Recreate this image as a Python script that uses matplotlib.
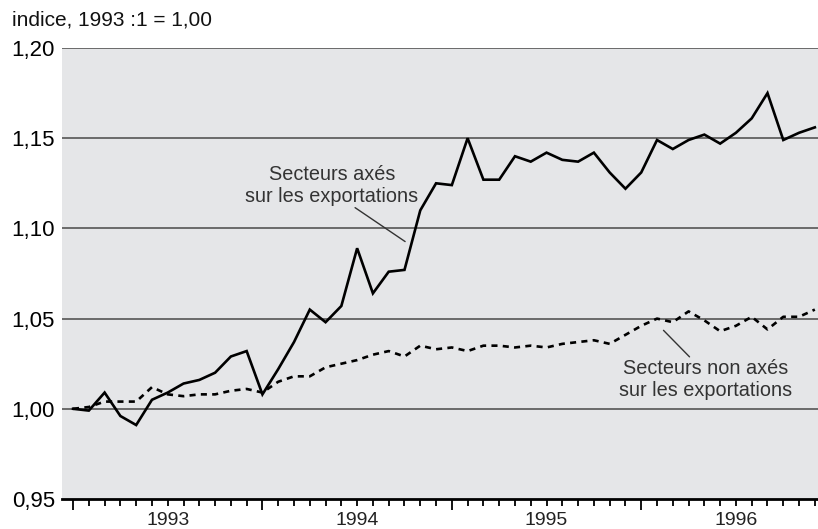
import matplotlib
matplotlib.use("Agg")
import matplotlib.pyplot as plt
import matplotlib.transforms as mtransforms

plt.rcParams["font.family"] = ["Liberation Sans", "DejaVu Sans"]

# monthly index, 1993:1 .. 1996:12
years = ["1993", "1994", "1995", "1996"]
export_sectors = [
    1.000, 0.999, 1.009, 0.996, 0.991, 1.005, 1.009, 1.014, 1.016, 1.020, 1.029, 1.032,
    1.008, 1.022, 1.037, 1.055, 1.048, 1.057, 1.089, 1.064, 1.076, 1.077, 1.110, 1.125,
    1.124, 1.150, 1.127, 1.127, 1.140, 1.137, 1.142, 1.138, 1.137, 1.142, 1.131, 1.122,
    1.131, 1.149, 1.144, 1.149, 1.152, 1.147, 1.153, 1.161, 1.175, 1.149, 1.153, 1.156,
]
other_sectors = [
    1.000, 1.001, 1.004, 1.004, 1.004, 1.012, 1.008, 1.007, 1.008, 1.008, 1.010, 1.011,
    1.009, 1.015, 1.018, 1.018, 1.023, 1.025, 1.027, 1.030, 1.032, 1.029, 1.035, 1.033,
    1.034, 1.032, 1.035, 1.035, 1.034, 1.035, 1.034, 1.036, 1.037, 1.038, 1.036, 1.041,
    1.046, 1.050, 1.048, 1.054, 1.049, 1.043, 1.046, 1.051, 1.044, 1.051, 1.051, 1.055,
]
months = list(range(len(export_sectors)))

fig = plt.figure(figsize=(8.18, 5.29), dpi=100)
ax = fig.add_axes([62 / 818, 30 / 529, 1 - 62 / 818, 451 / 529])
ax.set_facecolor("#e5e6e8")

for y in [1.00, 1.05, 1.10, 1.15, 1.20]:
    ax.axhline(y, color="#555555", lw=1.2, zorder=1)

ax.plot(months, export_sectors, color="black", lw=1.9, solid_joinstyle="miter", zorder=3)
ax.plot(months, other_sectors, color="black", lw=1.9, dashes=(2.3, 2.0), zorder=3)

ax.set_xlim(-0.7, 47.2)
ax.set_ylim(0.95, 1.20)

for side in ["left", "right", "top"]:
    ax.spines[side].set_visible(False)
ax.spines["bottom"].set_linewidth(2)
ax.spines["bottom"].set_color("black")

ax.set_yticks([0.95, 1.00, 1.05, 1.10, 1.15, 1.20])
ax.set_yticklabels(["0,95", "1,00", "1,05", "1,10", "1,15", "1,20"], fontsize=16)
ax.tick_params(axis="y", length=0, pad=5)

ax.set_xticks([0, 12, 24, 36])
ax.set_xticks([m for m in months if m % 12 != 0], minor=True)
ax.set_xticklabels([])
ax.tick_params(axis="x", which="major", length=8, width=1.3, direction="out")
ax.tick_params(axis="x", which="minor", length=5, width=1.3, direction="out")

trans = mtransforms.blended_transform_factory(ax.transData, ax.transAxes)
for k, yr in enumerate(years):
    ax.text(12 * k + 6, -0.028, yr, transform=trans, ha="center", va="top",
            fontsize=14, color="#222222")

fig.text(12 / 818, 1 - 11 / 529, "indice, 1993 :1 = 1,00", ha="left", va="top",
         fontsize=15, color="#111111")

# labels and leader lines
ax.text(16.4, 1.1240, "Secteurs axés\nsur les exportations", ha="center", va="center",
        fontsize=14.3, color="#333333", linespacing=1.2)
ax.annotate("", xy=(21.04, 1.0927), xytext=(17.87, 1.1115),
            arrowprops=dict(arrowstyle="-", color="#333333", lw=1, shrinkA=0, shrinkB=0))
ax.text(40.05, 1.0164, "Secteurs non axés\nsur les exportations", ha="center", va="center",
        fontsize=14.3, color="#333333", linespacing=1.2)
ax.annotate("", xy=(37.41, 1.0435), xytext=(39.06, 1.0288),
            arrowprops=dict(arrowstyle="-", color="#333333", lw=1, shrinkA=0, shrinkB=0))

fig.savefig("out.png", dpi=100)
